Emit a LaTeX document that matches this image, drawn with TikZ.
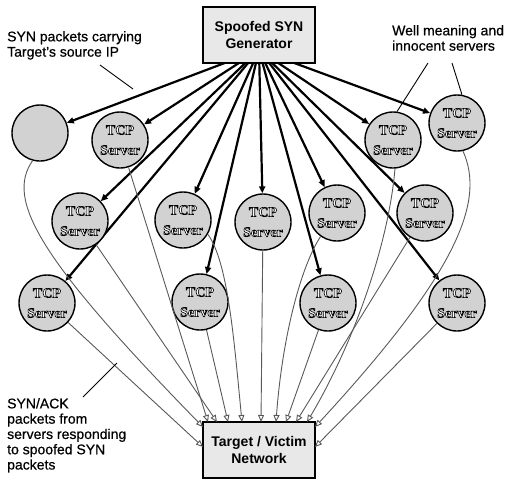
\documentclass[tikz,border=0pt]{standalone}
\usepackage{fontspec}
\setmainfont{Liberation Sans}
\newfontfamily\srvfont{Liberation Serif}
\usetikzlibrary{arrows.meta}
\pgfdeclarelayer{bg}
\pgfsetlayers{bg,main}
\newcommand\embo[1]{\special{pdf:code 2 Tr 0.6 w 0 G}#1\special{pdf:code 0 Tr}}
\begin{document}
\begin{tikzpicture}[x=1pt,y=-1pt,
  srv/.style={circle, draw=black, line width=1.4pt, fill=gray!35, minimum size=56pt, inner sep=0pt, align=center, text=white, font=\srvfont\bfseries\fontsize{14}{20}\selectfont},
  box/.style={draw=black, line width=1.4pt, fill=gray!18, minimum width=112pt, minimum height=56pt, align=center, inner sep=0pt, font=\bfseries\fontsize{14}{17}\selectfont},
  lbl/.style={align=left, inner sep=0pt, anchor=north west, font=\addfontfeature{FakeBold=0.6}\fontsize{14}{15.3}\selectfont},
  syn/.style={line width=2.2pt, -{Triangle[length=7pt,width=6pt]}},
  ack/.style={line width=0.9pt, draw=black!65, -{Triangle[open,length=7pt,width=6pt,fill=white]}},
  ptr/.style={line width=0.9pt}]
\useasboundingbox (0,0) rectangle (513,485);

% boxes
\node[box] (gen) at (259,35) {Spoofed SYN\\Generator};
\node[box] (tgt) at (259,450) {Target / Victim\\Network};

% servers
\node[srv] (c1) at (40,133) {};
\node[srv] (c2) at (120,140) {\embo{TCP}\\\embo{Server}};
\node[srv] (c3) at (393,140) {\embo{TCP}\\\embo{Server}};
\node[srv] (c4) at (457,123) {\embo{TCP}\\\embo{Server}};
\node[srv] (c5) at (80,221) {\embo{TCP}\\\embo{Server}};
\node[srv] (c6) at (183,220) {\embo{TCP}\\\embo{Server}};
\node[srv] (c7) at (263,222) {\embo{TCP}\\\embo{Server}};
\node[srv] (c8) at (337,213) {\embo{TCP}\\\embo{Server}};
\node[srv] (c9) at (425,213) {\embo{TCP}\\\embo{Server}};
\node[srv] (c10) at (47,303) {\embo{TCP}\\\embo{Server}};
\node[srv] (c11) at (200,302) {\embo{TCP}\\\embo{Server}};
\node[srv] (c12) at (328,303) {\embo{TCP}\\\embo{Server}};
\node[srv] (c13) at (457,303) {\embo{TCP}\\\embo{Server}};

% labels
\node[lbl] (lsyn) at (7,31) {SYN packets carrying\\Target's source IP};
\node[lbl] (lwell) at (392,25) {Well meaning and\\innocent servers};
\node[lbl] (lack) at (7,398) {SYN/ACK\\packets from\\servers responding\\to spoofed SYN\\packets};

% coordinates
\coordinate (hub) at (259,50);
\coordinate (tA) at (203,427);
\coordinate (tB) at (203,447);
\coordinate (t1) at (208,422);
\coordinate (t2) at (217,422);
\coordinate (t3) at (228,422);
\coordinate (t4) at (242,422);
\coordinate (t5) at (261,422);
\coordinate (t6) at (276,422);
\coordinate (t7) at (286,422);
\coordinate (t8) at (296,422);
\coordinate (t9) at (307,422);
\coordinate (tC) at (315,427);
\coordinate (tD) at (315,447);
\coordinate (p1a) at (100,65);
\coordinate (p1b) at (133,89);
\coordinate (w1) at (428,63);
\coordinate (w2) at (452,63);
\coordinate (k1) at (83,397);
\coordinate (k2) at (117,363);

% SYN arrows
\begin{pgfonlayer}{bg}
\foreach \c in {c1,c2,c3,c4,c5,c6,c7,c8,c9,c10,c11,c12,c13}
  \draw[syn] (hub) -- (\c);
\end{pgfonlayer}

% SYN/ACK responses
\draw[ack] (c1.255) .. controls (5,200) and (40,260) .. (tA);
\draw[ack] (c10) -- (tB);
\draw[ack] (c2) -- (t1);
\draw[ack] (c5) -- (t2);
\draw[ack] (c11) -- (t3);
\draw[ack] (c6.-30) .. controls (228,262) and (234,340) .. (t4);
\draw[ack] (c7) -- (t5);
\draw[ack] (c8.-125) .. controls (300,268) and (282,340) .. (t6);
\draw[ack] (c12) -- (t7);
\draw[ack] (c9) -- (t8);
\draw[ack] (c3.-86) .. controls (388,250) and (350,350) .. (t9);
\draw[ack] (c4.-78) .. controls (485,200) and (460,270) .. (tC);
\draw[ack] (c13) -- (tD);

% pointers
\draw[ptr] (p1a) -- (p1b);
\draw[ptr] (w1) -- (c3.82);
\draw[ptr] (w2) -- (c4.80);
\draw[ptr] (k1) -- (k2);
\end{tikzpicture}
\end{document}
